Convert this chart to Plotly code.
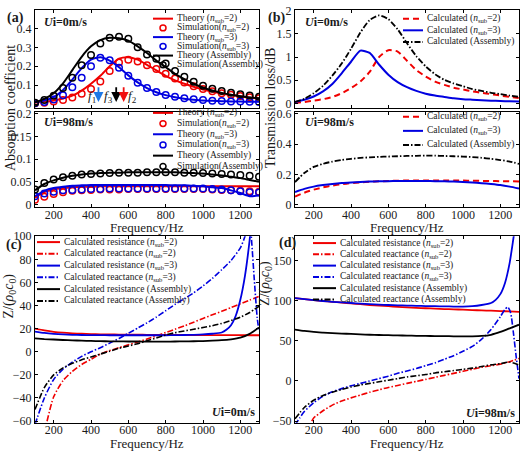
import plotly.graph_objects as go

W, H = 520, 456

# ---- frequency grids (Hz) ----
FREQ = [100, 150, 200, 250, 300, 350, 400, 450, 500, 550, 600, 650, 700,
        750, 800, 850, 900, 950, 1000, 1050, 1100, 1150, 1200, 1250, 1300]

# ---- (a) absorption coefficient, Ui = 0 m/s ----
abs_th2_0 = [0.008, 0.013, 0.020, 0.030, 0.045, 0.072, 0.108, 0.150, 0.200, 0.240, 0.248, 0.235, 0.208,
             0.178, 0.150, 0.126, 0.108, 0.092, 0.078, 0.067, 0.057, 0.049, 0.042, 0.035, 0.030]
abs_sim2_0 = [0.005, 0.008, 0.015, 0.022, 0.035, 0.055, 0.080, 0.120, 0.175, 0.220, 0.235, 0.225, 0.205,
              0.185, 0.160, 0.135, 0.115, 0.095, 0.080, 0.068, 0.058, 0.050, 0.043, 0.037, 0.032]
abs_th3_0 = [0.010, 0.020, 0.037, 0.075, 0.130, 0.190, 0.235, 0.248, 0.230, 0.195, 0.152, 0.115, 0.085,
             0.063, 0.048, 0.037, 0.029, 0.024, 0.020, 0.018, 0.016, 0.015, 0.014, 0.013, 0.013]
abs_sim3_0 = [0.005, 0.012, 0.025, 0.048, 0.090, 0.140, 0.200, 0.245, 0.232, 0.192, 0.150, 0.113, 0.085,
              0.064, 0.049, 0.039, 0.031, 0.026, 0.022, 0.019, 0.017, 0.015, 0.014, 0.013, 0.012]
abs_thA_0 = [0.010, 0.028, 0.058, 0.110, 0.180, 0.250, 0.305, 0.338, 0.350, 0.348, 0.335, 0.305, 0.270,
             0.230, 0.195, 0.160, 0.132, 0.108, 0.088, 0.072, 0.060, 0.050, 0.042, 0.036, 0.031]
abs_simA_0 = [0.008, 0.022, 0.045, 0.085, 0.140, 0.205, 0.260, 0.320, 0.350, 0.355, 0.345, 0.300, 0.262,
              0.240, 0.215, 0.175, 0.145, 0.118, 0.098, 0.082, 0.070, 0.060, 0.052, 0.046, 0.040]
F1, F3, F2 = 440, 535, 575   # peak frequencies marked by arrows

# ---- (a) absorption coefficient, Ui = 98 m/s ----
abs_th2_98 = [0.015, 0.027, 0.033, 0.036, 0.038, 0.039, 0.039, 0.040, 0.040, 0.040, 0.040, 0.040, 0.040,
              0.040, 0.040, 0.040, 0.040, 0.040, 0.040, 0.040, 0.040, 0.040, 0.040, 0.040, 0.040]
abs_sim2_98 = [0.010, 0.017, 0.023, 0.027, 0.030, 0.031, 0.032, 0.033, 0.033, 0.033, 0.034, 0.034, 0.034,
               0.034, 0.034, 0.034, 0.034, 0.034, 0.034, 0.033, 0.032, 0.031, 0.030, 0.029, 0.028]
abs_th3_98 = [0.018, 0.030, 0.036, 0.039, 0.041, 0.042, 0.043, 0.043, 0.043, 0.043, 0.043, 0.043, 0.043,
              0.043, 0.043, 0.042, 0.042, 0.041, 0.040, 0.038, 0.036, 0.031, 0.025, 0.018, 0.020]
abs_sim3_98 = [0.018, 0.024, 0.028, 0.031, 0.032, 0.033, 0.034, 0.034, 0.035, 0.035, 0.035, 0.035, 0.035,
               0.035, 0.035, 0.035, 0.035, 0.035, 0.035, 0.034, 0.033, 0.031, 0.029, 0.027, 0.026]
abs_thA_98 = [0.031, 0.045, 0.053, 0.059, 0.063, 0.066, 0.068, 0.069, 0.070, 0.070, 0.071, 0.071, 0.071,
              0.071, 0.071, 0.071, 0.070, 0.069, 0.068, 0.066, 0.064, 0.061, 0.058, 0.054, 0.050]
abs_simA_98 = [0.033, 0.047, 0.055, 0.060, 0.063, 0.066, 0.067, 0.068, 0.069, 0.070, 0.070, 0.070, 0.071,
               0.071, 0.071, 0.071, 0.070, 0.070, 0.069, 0.068, 0.067, 0.066, 0.065, 0.063, 0.061]

# ---- (b) transmission loss (dB) ----
tl2_0 = [0.01, 0.03, 0.06, 0.09, 0.14, 0.22, 0.33, 0.47, 0.68, 1.00, 1.15, 1.12, 0.92,
         0.72, 0.58, 0.47, 0.40, 0.34, 0.30, 0.26, 0.23, 0.20, 0.17, 0.14, 0.115]
tl3_0 = [0.03, 0.08, 0.15, 0.26, 0.42, 0.65, 0.90, 1.14, 1.09, 0.84, 0.62, 0.46, 0.35,
         0.27, 0.21, 0.17, 0.14, 0.11, 0.09, 0.08, 0.07, 0.06, 0.05, 0.045, 0.04]
tlA_0 = [0.03, 0.10, 0.22, 0.38, 0.60, 0.86, 1.18, 1.53, 1.80, 1.90, 1.82, 1.60, 1.30,
         1.02, 0.80, 0.63, 0.51, 0.43, 0.37, 0.31, 0.27, 0.23, 0.20, 0.17, 0.14]
tl2_98 = [0.055, 0.080, 0.100, 0.115, 0.127, 0.136, 0.143, 0.148, 0.152, 0.155, 0.157, 0.159, 0.160,
          0.161, 0.161, 0.161, 0.161, 0.160, 0.160, 0.159, 0.158, 0.157, 0.156, 0.155, 0.154]
tl3_98 = [0.085, 0.105, 0.120, 0.130, 0.138, 0.144, 0.148, 0.151, 0.153, 0.155, 0.156, 0.157, 0.157,
          0.157, 0.157, 0.156, 0.155, 0.153, 0.151, 0.148, 0.143, 0.137, 0.130, 0.120, 0.108]
tlA_98 = [0.150, 0.210, 0.250, 0.270, 0.285, 0.295, 0.303, 0.309, 0.313, 0.316, 0.318, 0.320, 0.322,
          0.323, 0.324, 0.324, 0.322, 0.320, 0.318, 0.315, 0.310, 0.303, 0.295, 0.285, 0.270]

# ---- (c) normalised impedance, Ui = 0 m/s ----
res2_0 = [20.0, 18.5, 17.3, 16.5, 16.0, 15.6, 15.3, 15.1, 15.0, 14.9, 14.8, 14.8, 14.7,
          14.7, 14.6, 14.6, 14.5, 14.5, 14.5, 14.4, 14.4, 14.4, 14.4, 14.3, 14.3]
freq_rx2_0 = FREQ[1:]
rx2_0 = [-70, -39, -25, -17, -11, -6.5, -2, 1, 3.5, 6.0, 8.5, 11.0,
         13.8, 16.6, 19.5, 22.4, 25.6, 28.8, 32.0, 35.0, 38.3, 41.5, 44.7, 48.0]
freq_res3_0 = FREQ[:21] + [1125, 1150, 1175, 1200, 1225, 1250, 1275, 1300]
res3_0 = [17.5, 16.3, 15.5, 15.0, 14.7, 14.5, 14.4, 14.4, 14.3, 14.3, 14.3, 14.3, 14.3,
          14.3, 14.3, 14.4, 14.5, 14.7, 15.0, 15.6, 16.7, 19.0, 23.0, 31.0, 45.0, 66.0, 97.0, 140, 170]
freq_rx3_0 = FREQ[:23] + [1225, 1240, 1250, 1260, 1275, 1290, 1300]
rx3_0 = [-63, -40, -24, -15, -9, -4, 0, 3.5, 7.5, 11.5, 16.0, 20.5, 25.0,
         30.0, 35.5, 41.0, 46.0, 51.0, 57.0, 63.5, 71.0, 79.0, 90.0, 100, 112, 116, 97, 62, 30, 18]
resA_0 = [11.6, 11.0, 10.6, 10.2, 9.9, 9.6, 9.4, 9.2, 9.0, 9.0, 8.9, 8.9, 8.8,
          8.8, 8.8, 8.9, 9.0, 9.1, 9.3, 9.6, 10.0, 10.8, 12.2, 15.5, 21.0]
rxA_0 = [-50, -31, -20, -14, -10, -7, -4.5, -2, 0.5, 3, 5, 7, 9.5,
         12, 14.5, 16.5, 18, 19.5, 21, 22.5, 24.5, 27, 30, 34, 39.5]

# ---- (d) normalised impedance, Ui = 98 m/s ----
res2_98 = [103, 101.7, 100.5, 99.5, 98.5, 97.5, 96.5, 95.5, 94.5, 93.7, 93.0, 92.2, 91.5,
           91.0, 90.5, 90.0, 89.5, 89.1, 88.7, 88.2, 87.8, 87.4, 87.0, 86.5, 86.0]
freq_rx2_98 = [190] + FREQ[2:]
rx2_98 = [-50, -46, -37, -30, -25, -21, -17.5, -14, -11, -8, -5.5, -3,
          -0.5, 2, 4.5, 7, 9.5, 12, 14.5, 17, 19, 21, 24, 28]
freq_res3_98 = FREQ[:22] + [1175, 1200, 1225, 1250, 1275, 1300]
res3_98 = [103, 101.7, 100.5, 99.5, 98.5, 97.7, 97.0, 96.2, 95.5, 95.0, 94.5, 94.1, 93.8,
           93.5, 93.2, 93.0, 92.8, 92.6, 92.5, 93.0, 94.5, 97.0, 101, 108, 122, 147, 185, 220]
freq_rx3_98 = [100, 125] + FREQ[1:23] + [1225, 1240, 1255, 1270, 1285, 1300]
rx3_98 = [-55, -46, -38, -27, -19, -13.5, -9.5, -6, -3, 0, 3, 6, 9.5, 12.5,
          15.5, 19, 22.5, 27, 31.5, 37, 43, 52, 64, 80, 89, 92, 85, 60, 30, 3]
resA_98 = [64, 62.3, 61, 60.2, 59.5, 59, 58.5, 58, 57.5, 57.2, 57, 56.7, 56.5,
           56.2, 56, 55.9, 55.8, 55.6, 55.5, 55.6, 56, 57.5, 61, 65.5, 70]
rxA_98 = [-47, -33, -24, -18, -14, -10.5, -7.5, -5, -3, -1, 1, 3, 5,
          6.5, 8, 10, 11.5, 13, 14.5, 16, 18, 20, 21.5, 23.5, 20]

RED, BLUE, BLACK = "#f00000", "#0000e0", "#000000"
SERIF = "Liberation Serif"
DASHDOT = "6px,2px,1.5px,2px"
DASH = "6px,4px"
TXT = "#1a1a1a"


def px_x(p):
    return p / W


def px_y(p):
    return 1 - p / H


fig = go.Figure()


def line(ax, x, y, color, dash="solid", width=2):
    fig.add_trace(go.Scatter(x=x, y=y, mode="lines", xaxis="x" + ax, yaxis="y" + ax,
                             line=dict(color=color, width=width, dash=dash, shape="spline", smoothing=0.6),
                             showlegend=False, hoverinfo="skip"))


def circles(ax, x, y, color):
    fig.add_trace(go.Scatter(x=x, y=y, mode="markers", xaxis="x" + ax, yaxis="y" + ax,
                             marker=dict(symbol="circle-open", size=6.5, color=color, line=dict(width=1.5)),
                             showlegend=False, hoverinfo="skip"))


# (a) upper
line("", FREQ, abs_th2_0, RED)
circles("", FREQ, abs_sim2_0, RED)
line("", FREQ, abs_th3_0, BLUE)
circles("", FREQ, abs_sim3_0, BLUE)
line("", FREQ, abs_thA_0, BLACK)
circles("", FREQ, abs_simA_0, BLACK)
# (a) lower
line("2", FREQ, abs_th2_98, RED)
circles("2", FREQ, abs_sim2_98, RED)
line("2", FREQ, abs_th3_98, BLUE)
circles("2", FREQ, abs_sim3_98, BLUE)
line("2", FREQ, abs_thA_98, BLACK)
circles("2", FREQ, abs_simA_98, BLACK)
# (b)
line("3", FREQ, tl2_0, RED, DASH)
line("3", FREQ, tl3_0, BLUE)
line("3", FREQ, tlA_0, BLACK, DASHDOT, 1.8)
line("4", FREQ, tl2_98, RED, DASH)
line("4", FREQ, tl3_98, BLUE)
line("4", FREQ, tlA_98, BLACK, DASHDOT, 1.8)
# (c)
line("5", FREQ, res2_0, RED, width=1.8)
line("5", freq_rx2_0, rx2_0, RED, DASHDOT, 1.6)
line("5", freq_res3_0, res3_0, BLUE, width=1.8)
line("5", freq_rx3_0, rx3_0, BLUE, DASHDOT, 1.6)
line("5", FREQ, resA_0, BLACK, width=1.8)
line("5", FREQ, rxA_0, BLACK, DASHDOT, 1.6)
# (d)
line("6", FREQ, res2_98, RED, width=1.8)
line("6", freq_rx2_98, rx2_98, RED, DASHDOT, 1.6)
line("6", freq_res3_98, res3_98, BLUE, width=1.8)
line("6", freq_rx3_98, rx3_98, BLUE, DASHDOT, 1.6)
line("6", FREQ, resA_98, BLACK, width=1.8)
line("6", FREQ, rxA_98, BLACK, DASHDOT, 1.6)

# ---- axes ----
XA = [px_x(35), px_x(259)]
XB = [px_x(295), px_x(519)]
Y_TOP = [px_y(104), px_y(3)]
Y_MID = [px_y(206), px_y(108)]
Y_BOT = [px_y(428), px_y(236)]


def xax(domain, anchor, labels):
    return dict(domain=domain, anchor=anchor, range=[100, 1300], tickvals=[200, 400, 600, 800, 1000, 1200],
                showticklabels=labels, showline=True, mirror="ticks", linecolor="#000", linewidth=1,
                ticks="inside", ticklen=3, tickcolor="#000", showgrid=False, zeroline=False,
                ticklabelstandoff=-4,
                tickfont=dict(family=SERIF, size=12, color=TXT))


def yax(domain, anchor, rng, vals, text=None):
    d = dict(domain=domain, anchor=anchor, range=rng, tickvals=vals,
             showline=True, mirror="ticks", linecolor="#000", linewidth=1,
             ticks="inside", ticklen=3, tickcolor="#000", showgrid=False, zeroline=False,
             tickfont=dict(family=SERIF, size=12, color=TXT))
    if text:
        d["ticktext"] = text
    return d


layout_axes = dict(
    xaxis=xax(XA, "y", False),
    yaxis=yax(Y_TOP, "x", [-0.02, 0.497], [0, 0.1, 0.2, 0.3, 0.4], ["0", "0.1", "0.2", "0.3", "0.4"]),
    xaxis2=xax(XA, "y2", True),
    yaxis2=yax(Y_MID, "x2", [-0.006, 0.204], [0, 0.05, 0.1, 0.15, 0.2], ["0", "0.05", "0.1", "0.15", "0.2"]),
    xaxis3=xax(XB, "y3", False),
    yaxis3=yax(Y_TOP, "x3", [-0.1, 2.02], [0, 0.5, 1, 1.5, 2], ["0", "0.5", "1", "1.5", "2"]),
    xaxis4=xax(XB, "y4", True),
    yaxis4=yax(Y_MID, "x4", [-0.015, 0.612], [0, 0.2, 0.4, 0.6], ["0", "0.2", "0.4", "0.6"]),
    xaxis5=xax(XA, "y5", True),
    yaxis5=yax(Y_BOT, "x5", [-61.5, 100], [-60, -40, -20, 0, 20, 40, 60, 80, 100]),
    xaxis6=xax(XB, "y6", True),
    yaxis6=yax(Y_BOT, "x6", [-52, 180], [-50, 0, 50, 100, 150]),
)

shapes = []
annotations = []


def text(x, y, s, size=12, anchor="left", angle=0, color=TXT):
    annotations.append(dict(xref="paper", yref="paper", x=px_x(x), y=px_y(y), text=s, showarrow=False,
                            xanchor=anchor, yanchor="middle", textangle=angle,
                            font=dict(family=SERIF, size=size, color=color)))


def key(x0, y, kind, color, dash, label, seg=20, size=9.5):
    if kind == "line":
        shapes.append(dict(type="line", xref="paper", yref="paper", x0=px_x(x0), x1=px_x(x0 + seg),
                           y0=px_y(y), y1=px_y(y), line=dict(color=color, width=2, dash=dash)))
    else:
        c = x0 + seg / 2
        shapes.append(dict(type="circle", xref="paper", yref="paper", x0=px_x(c - 3), x1=px_x(c + 3),
                           y0=px_y(y + 3), y1=px_y(y - 3), line=dict(color=color, width=1.5)))
    text(x0 + seg + 1.5, y, label, size=size)


N2 = "(<i>n</i><sub>sub</sub>=2)"
N3 = "(<i>n</i><sub>sub</sub>=3)"

a_rows = [("line", RED, "solid", "Theory " + N2),
          ("marker", RED, None, "Simulation" + N2),
          ("line", BLUE, "solid", "Theory " + N3),
          ("marker", BLUE, None, "Simulation" + N3),
          ("line", BLACK, "solid", "Theory (Assembly)"),
          ("marker", BLACK, None, "Simulation(Assembly)")]
for i, r in enumerate(a_rows):
    key(153, 12 + i * 9.5, *r)
for i, r in enumerate(a_rows):
    key(153, 109 + i * 11, *r)

b_rows = [("line", RED, DASH, "Calculated " + N2),
          ("line", BLUE, "solid", "Calculated " + N3),
          ("line", BLACK, DASHDOT, "Calculated (Assembly)")]
for i, r in enumerate(b_rows):
    key(403, 12 + i * 12, *r)
for i, r in enumerate(b_rows):
    key(403, 113 + i * 14.5, *r)

cd_rows = [("line", RED, "solid", "Calculated resistance " + N2),
           ("line", RED, DASHDOT, "Calculated reactance " + N2),
           ("line", BLUE, "solid", "Calculated resistance " + N3),
           ("line", BLUE, DASHDOT, "Calculated reactance " + N3),
           ("line", BLACK, "solid", "Calculated resistance (Assembly)"),
           ("line", BLACK, DASHDOT, "Calculated reactance (Assembly)")]
for i, r in enumerate(cd_rows):
    key(37, 242 + i * 12.1, *r, seg=23)
for i, r in enumerate(cd_rows):
    key(313, 243 + i * 11.6, *r, seg=23)

# panel labels and flow speed tags
text(5, 11, "<b>(a)</b>", 14)
text(266, 11, "<b>(b)</b>", 14)
text(4, 245, "<b>(c)</b>", 14)
text(277, 243, "<b>(d)</b>", 14)
text(42, 15, "<b><i>U</i>i=0m/s</b>", 12)
text(42, 118, "<b><i>U</i>i=98m/s</b>", 12)
text(303, 15, "<b><i>U</i>i=0m/s</b>", 12)
text(303, 118, "<b><i>U</i>i=98m/s</b>", 12)
text(257, 417, "<b><i>U</i>i=0m/s</b>", 12, anchor="right")
text(517, 418, "<b><i>U</i>i=98m/s</b>", 12, anchor="right")

# axis titles
text(147, 227, "Frequency/Hz", 13, anchor="center")
text(407, 227, "Frequency/Hz", 13, anchor="center")
text(147, 449, "Frequency/Hz", 13, anchor="center")
text(407, 449, "Frequency/Hz", 13, anchor="center")
text(10, 104, "Absorption coefficient", 14, anchor="center", angle=-90)
text(270, 104, "Transmission loss/dB", 14, anchor="center", angle=-90)
text(10, 298, "Z/(<i>ρ</i><sub>0</sub><i>c</i><sub>0</sub>)", 14, anchor="center", angle=-90)
text(266, 285, "Z/(<i>ρ</i><sub>0</sub><i>c</i><sub>0</sub>)", 14, anchor="center", angle=-90)

# resonance arrows and labels in (a)
for f, col in [(F1, "#1e78e6"), (F3, BLACK), (F2, "#f01010")]:
    annotations.append(dict(x=f, y=0.012, ax=f, ay=0.098, xref="x", yref="y", axref="x", ayref="y",
                            text="", showarrow=True, arrowhead=2, arrowsize=1.1, arrowwidth=1.8,
                            arrowcolor=col))
for f, s in [(F1 - 33, "1"), (F3 - 43, "3"), (F2 + 45, "2")]:
    annotations.append(dict(x=f, y=0.04, xref="x", yref="y", text="<i>f</i><sub>" + s + "</sub>",
                            showarrow=False, font=dict(family=SERIF, size=13, color=TXT)))

fig.update_layout(width=W, height=H, margin=dict(l=0, r=0, t=0, b=0),
                  paper_bgcolor="white", plot_bgcolor="white", showlegend=False,
                  shapes=shapes, annotations=annotations, **layout_axes)

fig.write_html("out.html", config={"displayModeBar": False},
               post_script="document.body.style.margin='0px';")
